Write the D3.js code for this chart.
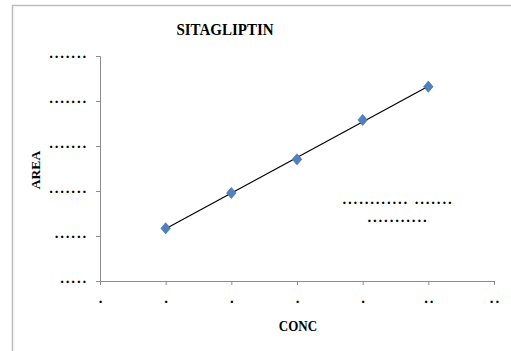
<!DOCTYPE html>
<html>
<head>
<meta charset="utf-8">
<script src="https://cdn.jsdelivr.net/npm/d3@7"></script>
<style>
  html, body { margin: 0; padding: 0; background: #fff; }
  svg { display: block; }
</style>
</head>
<body>
<svg id="chart" width="511" height="351"></svg>
<script>
// ---- data ----
const title = "SITAGLIPTIN";
const xTitle = "CONC";
const yTitle = "AREA";
const concValues = [2, 4, 6, 8, 10];
const areaValues = [1.171, 1.956, 2.704, 3.578, 4.318];
const xTickValues = [0, 2, 4, 6, 8, 10, 12];
const xTickLabels = [".", ".", ".", ".", ".", "..", ".."];
const yTickValues = [0, 1, 2, 3, 4, 5];
const yTickLabels = [".....", "......", ".......", ".......", ".......", "......."];
const equationLines = ["............ .......", "..........."];

// ---- layout ----
const svg = d3.select("#chart");
const W = 511, H = 351;
const plot = { left: 100, right: 494, top: 56, bottom: 281 };

const x = d3.scaleLinear().domain([0, 12]).range([plot.left, plot.right]);
const y = d3.scaleLinear().domain([0, 5]).range([plot.bottom, plot.top]);

// outer chart border (left and top edges visible)
svg.append("path")
  .attr("d", `M12.5,${H} L12.5,5.5 L${W},5.5`)
  .attr("fill", "none").attr("stroke", "#bdbdbd").attr("stroke-width", 1.5);

const axisColor = "#8c8c8c";
const dotFont = "'Liberation Serif', 'Times New Roman', serif";
const dotSize = 15, dotSpacing = 1.8;

// y axis
const yAxis = d3.axisLeft(y).tickValues(yTickValues)
  .tickSize(4).tickPadding(8)
  .tickFormat((d, i) => yTickLabels[i]);
const gy = svg.append("g").attr("transform", `translate(${plot.left},0)`).call(yAxis);
gy.select(".domain").attr("stroke", axisColor);
gy.selectAll(".tick line").attr("stroke", axisColor);
gy.selectAll(".tick text")
  .attr("font-family", dotFont).attr("font-weight", "bold")
  .attr("font-size", dotSize).attr("letter-spacing", dotSpacing)
  .attr("fill", "#000").attr("dy", "0.07em");

// x axis
const xAxis = d3.axisBottom(x).tickValues(xTickValues)
  .tickSize(4).tickPadding(8)
  .tickFormat((d, i) => xTickLabels[i]);
const gx = svg.append("g").attr("transform", `translate(0,${plot.bottom})`).call(xAxis);
gx.select(".domain").attr("stroke", axisColor);
gx.selectAll(".tick line").attr("stroke", axisColor);
gx.selectAll(".tick text")
  .attr("font-family", dotFont).attr("font-weight", "bold")
  .attr("font-size", dotSize).attr("letter-spacing", dotSpacing)
  .attr("fill", "#000").attr("dy", "0.65em")
  .attr("dx", dotSpacing / 2);

// linear trendline (least squares from the data)
const n = concValues.length;
const mx = d3.mean(concValues), my = d3.mean(areaValues);
let sxy = 0, sxx = 0;
for (let i = 0; i < n; i++) {
  sxy += (concValues[i] - mx) * (areaValues[i] - my);
  sxx += (concValues[i] - mx) ** 2;
}
const slope = sxy / sxx, intercept = my - slope * mx;
const xMin = d3.min(concValues), xMax = d3.max(concValues);
svg.append("line")
  .attr("x1", x(xMin)).attr("y1", y(intercept + slope * xMin))
  .attr("x2", x(xMax)).attr("y2", y(intercept + slope * xMax))
  .attr("stroke", "#000").attr("stroke-width", 1.2);

// markers (diamonds)
const diamond = "M0,-5.6 L4.8,0 L0,5.6 L-4.8,0 Z";
svg.append("g").selectAll("path")
  .data(concValues.map((c, i) => [c, areaValues[i]]))
  .join("path")
  .attr("d", diamond)
  .attr("transform", d => `translate(${x(d[0])},${y(d[1])})`)
  .attr("fill", "#4f81bd").attr("stroke", "#3f6fa8").attr("stroke-width", 0.6);

// equation / R² text (garbled as dots in the reference)
svg.append("g").selectAll("text")
  .data(equationLines)
  .join("text")
  .attr("x", 398).attr("y", (d, i) => 204 + i * 18)
  .attr("text-anchor", "middle")
  .attr("font-family", dotFont).attr("font-weight", "bold")
  .attr("font-size", dotSize).attr("letter-spacing", dotSpacing)
  .attr("fill", "#000")
  .text(d => d);

// title
svg.append("text")
  .attr("transform", "translate(225,35) scale(1,1.1)")
  .attr("text-anchor", "middle")
  .attr("font-family", dotFont).attr("font-weight", "bold")
  .attr("font-size", 15).attr("fill", "#000")
  .text(title);

// x axis title
svg.append("text")
  .attr("transform", "translate(298,330.5) scale(1,1.15)")
  .attr("text-anchor", "middle")
  .attr("font-family", dotFont).attr("font-weight", "bold")
  .attr("font-size", 13).attr("fill", "#000")
  .text(xTitle);

// y axis title
svg.append("text")
  .attr("transform", "translate(40,170) rotate(-90)")
  .attr("text-anchor", "middle")
  .attr("font-family", dotFont).attr("font-weight", "bold")
  .attr("font-size", 13.5).attr("fill", "#000")
  .text(yTitle);
</script>
</body>
</html>
